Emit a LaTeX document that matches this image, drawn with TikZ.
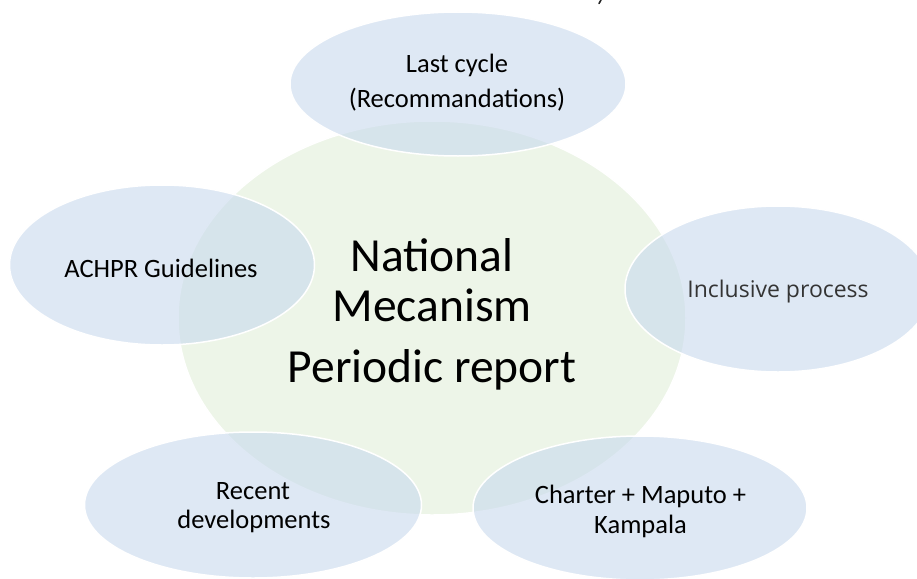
\documentclass[tikz,border=0pt]{standalone}
\usepackage{fontspec}
\setmainfont{Carlito}
\newfontfamily\procfont{Open Sans}
\usetikzlibrary{shapes.geometric}
\definecolor{bubblefill}{RGB}{200,217,237}
\definecolor{corefill}{RGB}{237,245,232}
\definecolor{softgray}{RGB}{52,52,52}
\begin{document}
\begin{tikzpicture}[x=1pt,y=-1pt,
  bubble/.style={ellipse, fill=bubblefill, fill opacity=0.6, draw=white, line width=1.5pt, inner sep=0pt},
  core/.style={ellipse, fill=corefill, draw=white, line width=1.5pt, inner sep=0pt},
  small/.style={font=\fontsize{26.5}{32}\selectfont, text=black, anchor=base, inner sep=0pt},
  big/.style={font=\fontsize{47.5}{52}\selectfont, text=black, anchor=base, inner sep=0pt}]
\path[use as bounding box] (0,0) rectangle (917,578);
\begin{scope}
\clip (0,0) rectangle (917,578);
% central mechanism
\node[core, minimum width=508pt, minimum height=394pt] (core) at (432,318) {};
% surrounding themes
\node[bubble, minimum width=336pt, minimum height=144pt] (cycle) at (458,84) {};
\node[bubble, minimum width=305pt, minimum height=160pt] (achpr) at (162,265) {};
\node[bubble, minimum width=306pt, minimum height=166pt] (incl) at (778,289) {};
\node[bubble, minimum width=337pt, minimum height=146pt] (recent) at (253,505) {};
\node[bubble, minimum width=334pt, minimum height=144pt] (charter) at (640,508) {};
% stray glyph fragment at the top edge
\draw[line width=1.6pt, black!85, line cap=round] (601,0) -- (599,3.5);
\end{scope}
% texts
\node[big] (t1) at (432,271) {National};
\node[big] (t2) at (432,321) {Mecanism};
\node[big] (t3) at (432,382) {Periodic report};
\node[small] (c1) at (457,72) {Last cycle};
\node[small] (c2) at (457,107) {(Recommandations)};
\node[small] (a1) at (161,277) {ACHPR Guidelines};
\node[small, font=\procfont\fontsize{23}{27}\selectfont, text=softgray] (i1) at (778,297) {Inclusive process};
\node[small] (r1) at (253,499) {Recent};
\node[small] (r2) at (254,528) {developments};
\node[small] (k1) at (640.5,503) {Charter + Maputo +};
\node[small] (k2) at (640.5,533) {Kampala};
\end{tikzpicture}
\end{document}
